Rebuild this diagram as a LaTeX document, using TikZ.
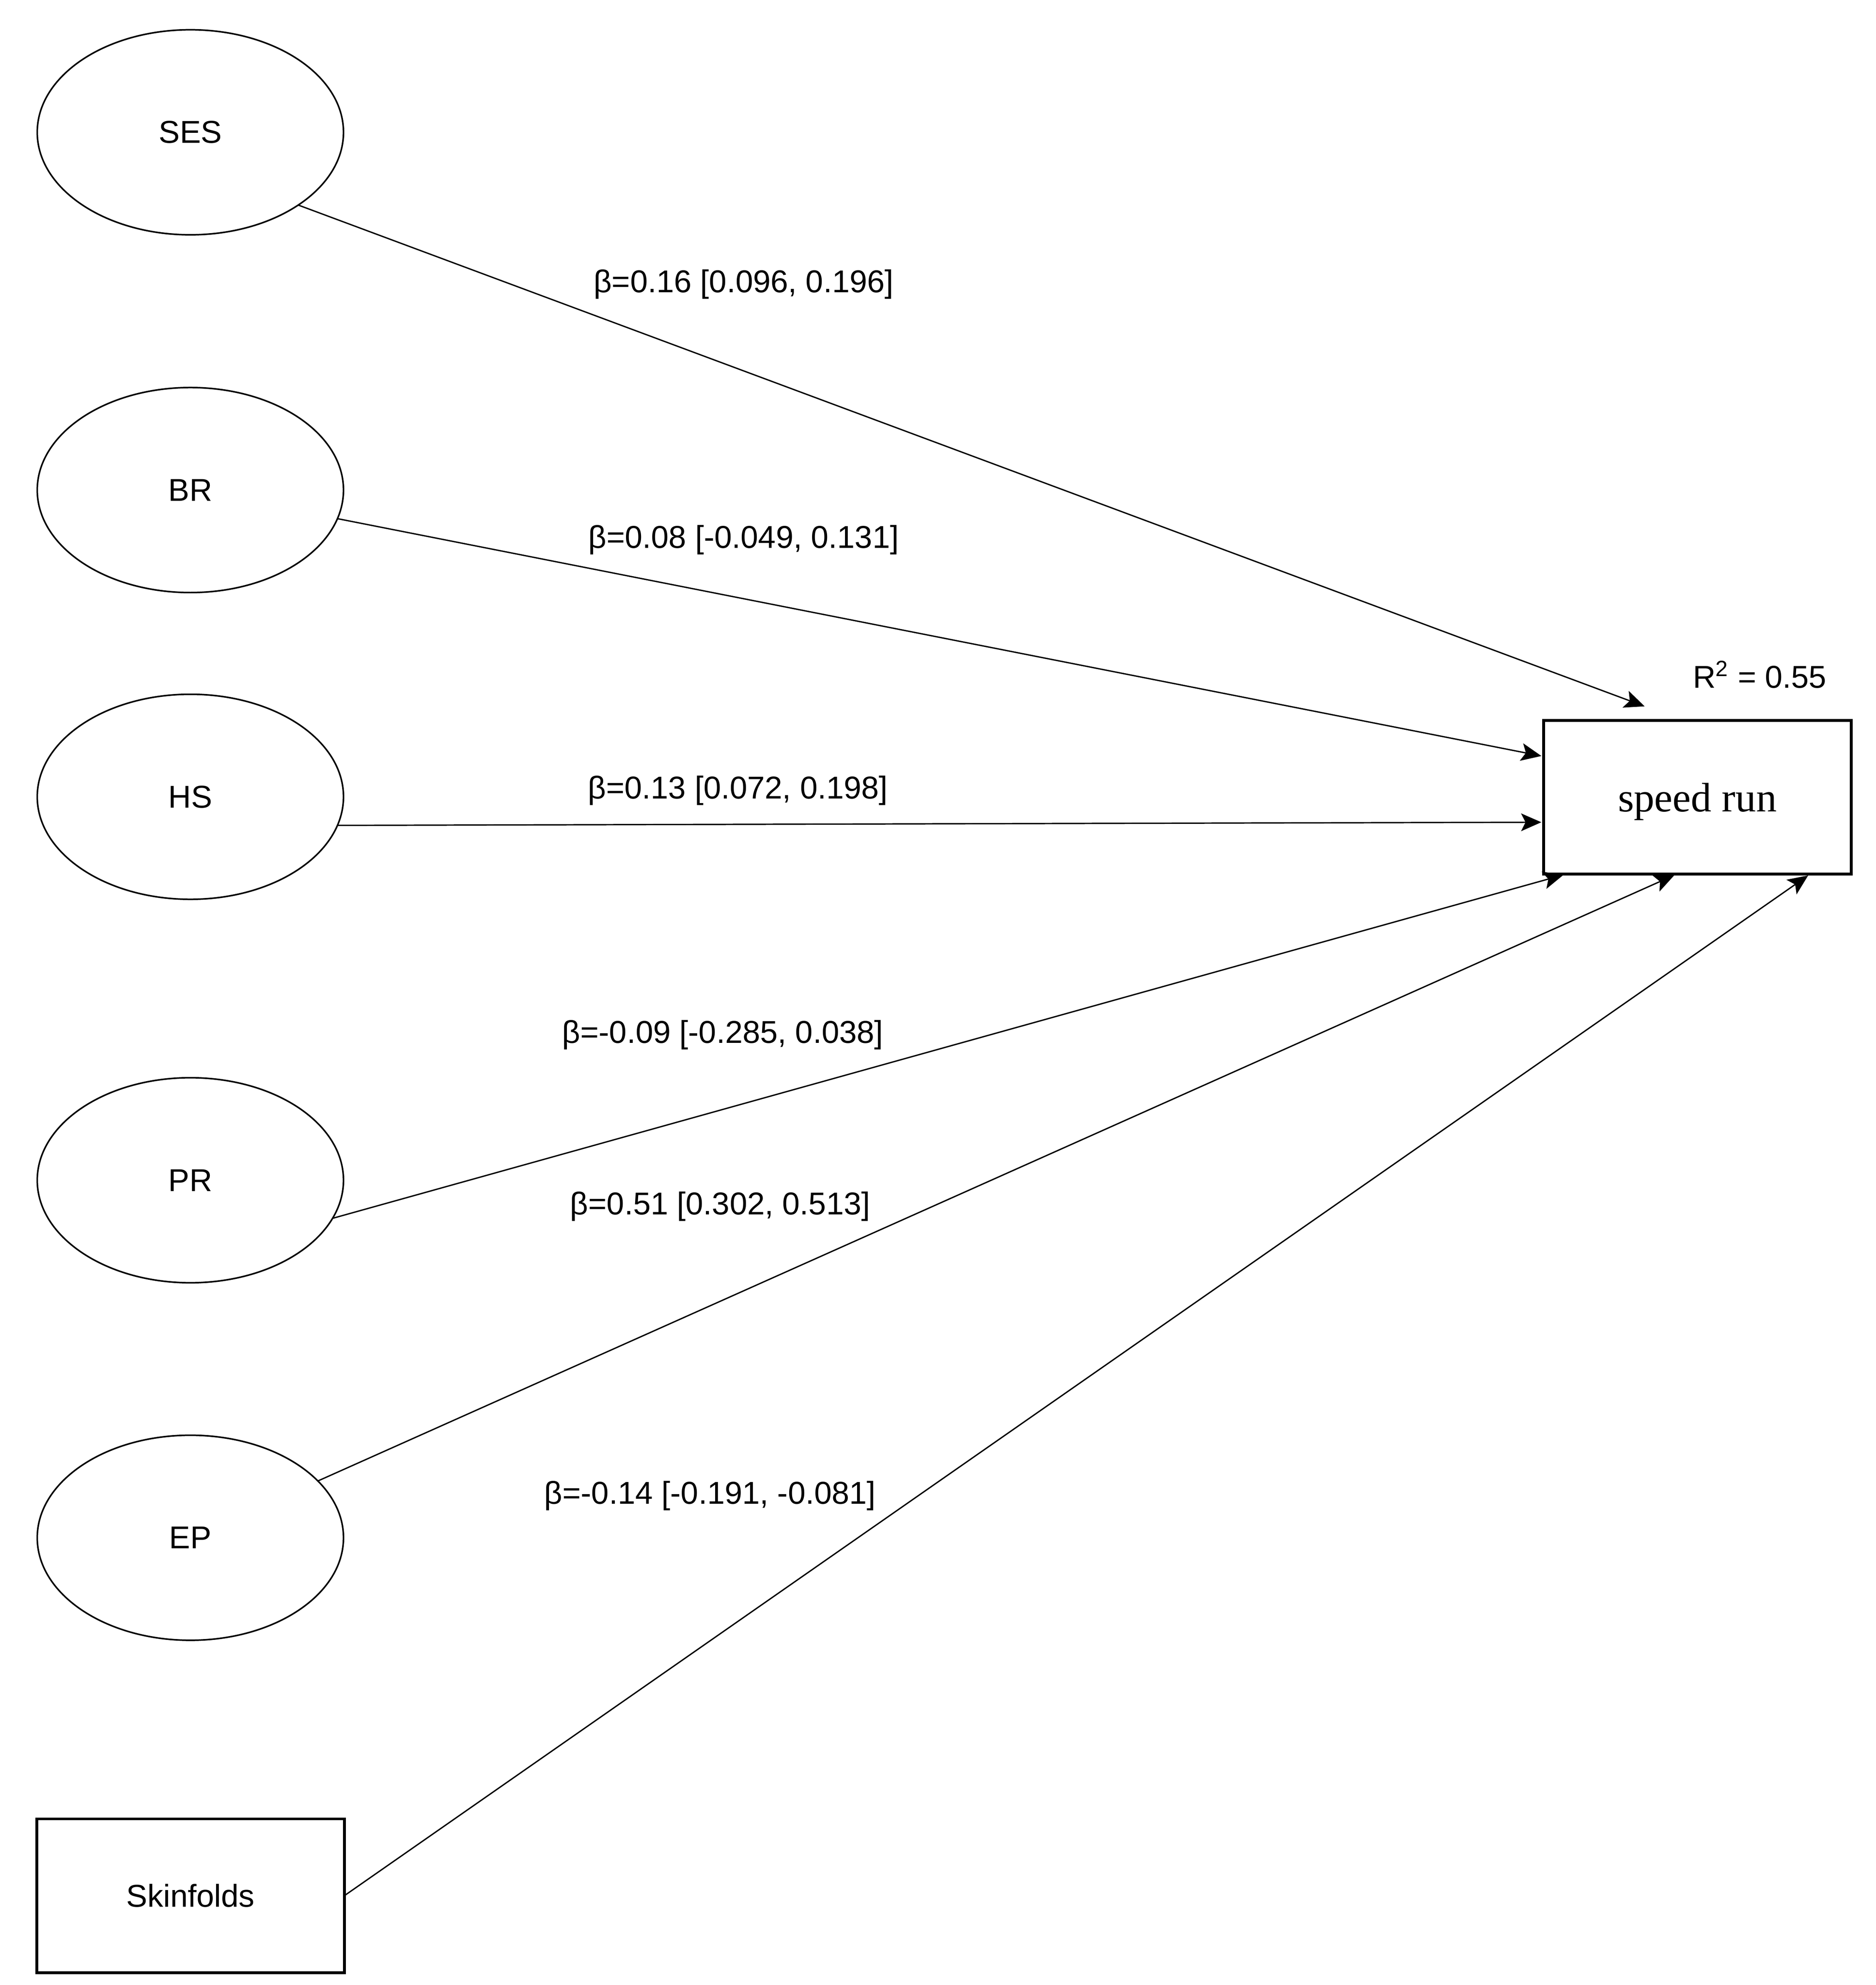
\documentclass[tikz,border=0pt]{standalone}
\usepackage{fontspec}
\setmainfont{Liberation Sans}
\newfontfamily\runfont{Liberation Serif}
\usepackage{tikz}
\usetikzlibrary{shapes.geometric,arrows.meta}

\begin{document}
\begin{tikzpicture}[x=0.02cm,y=-0.02cm,shorten >=1pt,>={Stealth[length=0.32cm,width=0.28cm,inset=0.07cm]},font=\fontsize{14.2}{17}\selectfont]
    \tikzset{latent/.style={draw,ellipse,line width=0.7pt,minimum width=4.84cm,minimum height=3.24cm,inner sep=0pt,outer sep=0pt}}
    \tikzset{observed/.style={draw,rectangle,line width=1.3pt,minimum width=4.86cm,minimum height=2.43cm,inner sep=0pt,outer sep=0pt}}
    \tikzset{coef/.style={anchor=base,inner sep=0pt}}
    \useasboundingbox (0,0) rectangle (1482,1568);
    % predictors
    \node[latent] (ses) at (150.4,104.5) {SES};
    \node[latent] (br) at (150.4,387.1) {BR};
    \node[latent] (hs) at (150.4,629.4) {HS};
    \node[latent] (pr) at (150.4,932.3) {PR};
    \node[latent] (ep) at (150.4,1214.7) {EP};
    \node[observed] (skin) at (150.5,1497.5) {Skinfolds};
    % outcome
    \node[observed,text depth=0pt,font=\runfont\fontsize{18.5}{22}\selectfont] (run) at (1341,629.8) {speed run};
    \node[coef] (rsq) at (1390.3,543.3) {R\textsuperscript{2} = 0.55};
    \coordinate (ses-in) at ([xshift=1.63cm,yshift=0.21cm]run.north west);
    \coordinate (br-in) at ([yshift=0.646cm]run.west);
    \coordinate (hs-in) at ([yshift=-0.394cm]run.west);
    \coordinate (pr-in) at ([xshift=0.35cm]run.south west);
    \coordinate (ep-in) at ([xshift=2.1cm]run.south west);
    \coordinate (skin-in) at ([xshift=4.21cm]run.south west);
    \path[->,line width=0.6pt]
    (ses.-34) edge (ses-in)
    (br.-11.5) edge (br-in)
    (hs.-11) edge (hs-in)
    (pr.-15) edge (pr-in)
    (ep.24) edge (ep-in)
    (skin.east) edge (skin-in)
    ;
    % path coefficients
    \node[coef] (b-ses) at (587.5,231) {β=0.16 [0.096, 0.196]};
    \node[coef] (b-br) at (587.5,433) {β=0.08 [-0.049, 0.131]};
    \node[coef] (b-hs) at (583,631) {β=0.13 [0.072, 0.198]};
    \node[coef] (b-pr) at (571,823.8) {β=-0.09 [-0.285, 0.038]};
    \node[coef] (b-ep) at (569,959.3) {β=0.51 [0.302, 0.513]};
    \node[coef] (b-skin) at (561,1188) {β=-0.14 [-0.191, -0.081]};
\end{tikzpicture}
\end{document}
